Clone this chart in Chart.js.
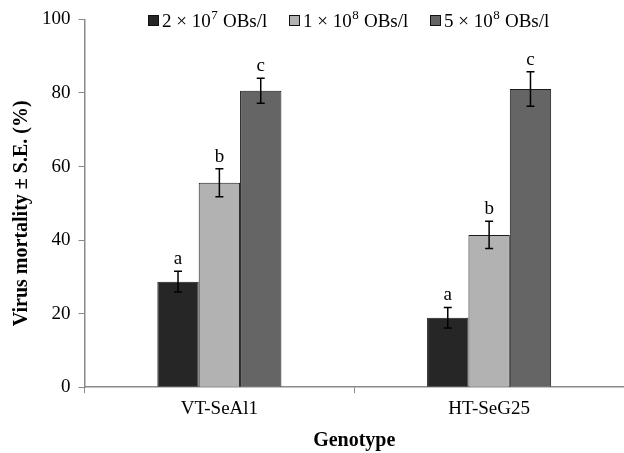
<!DOCTYPE html>
<html>
<head>
<meta charset="utf-8">
<script src="https://cdn.jsdelivr.net/npm/chart.js@4.4.1/dist/chart.umd.min.js"></script>
<style>
  html, body { margin: 0; padding: 0; background: #fff; }
  #wrap { width: 624px; height: 453px; }
</style>
</head>
<body>
<div id="wrap"><canvas id="chartCanvas" width="624" height="453"></canvas></div>
<script>
// data
const categories = ['VT-SeAl1', 'HT-SeG25'];
const doseLabels = ['2 \u00d7 10\u2077 OBs/l', '1 \u00d7 10\u2078 OBs/l', '5 \u00d7 10\u2078 OBs/l'];
const lowDose = [28.7, 18.9];
const midDose = [55.6, 41.4];
const highDose = [80.6, 81.1];
const lowSE = [2.8, 2.8];
const midSE = [3.8, 3.7];
const highSE = [3.4, 4.7];
const lowLetters = ['a', 'a'];
const midLetters = ['b', 'b'];
const highLetters = ['c', 'c'];
const yTicks = [0, 20, 40, 60, 80, 100];

const serif = "'Liberation Serif', 'Times New Roman', serif";
const barColors = ['#262626', '#b2b2b2', '#656565'];
const supDigits = { '\u2077': '7', '\u2078': '8' };

// error bars + significance letters
const errorBarPlugin = {
  id: 'errorBars',
  afterDatasetsDraw(chart) {
    let ctx = chart.ctx;
    let yScale = chart.scales.y;
    ctx.save();
    chart.data.datasets.forEach((ds, di) => {
      let meta = chart.getDatasetMeta(di);
      meta.data.forEach((bar, i) => {
        let v = ds.data[i];
        let se = ds.se[i];
        let yTop = yScale.getPixelForValue(v + se);
        let yBot = yScale.getPixelForValue(v - se);
        let x = bar.x;
        ctx.strokeStyle = '#000';
        ctx.lineWidth = 1.5;
        ctx.beginPath();
        ctx.moveTo(x, yTop); ctx.lineTo(x, yBot);
        ctx.moveTo(x - 4, yTop); ctx.lineTo(x + 4, yTop);
        ctx.moveTo(x - 4, yBot); ctx.lineTo(x + 4, yBot);
        ctx.stroke();
        ctx.fillStyle = '#000';
        ctx.font = '19px ' + serif;
        ctx.textAlign = 'center';
        ctx.textBaseline = 'alphabetic';
        ctx.fillText(ds.letters[i], x, yTop - 7);
      });
    });
    ctx.restore();
  }
};

// legend drawn over the top edge of the plot, as in the figure
const topLegendPlugin = {
  id: 'topLegend',
  afterDraw(chart) {
    let ctx = chart.ctx;
    let boxX = [148, 289, 430];
    let yMid = 20;
    let base = yMid + 7;
    ctx.save();
    ctx.textBaseline = 'alphabetic';
    ctx.textAlign = 'left';
    chart.data.datasets.forEach((ds, di) => {
      ctx.fillStyle = ds.backgroundColor;
      ctx.fillRect(boxX[di], yMid - 5, 10, 10);
      ctx.strokeStyle = '#111';
      ctx.lineWidth = 1;
      ctx.strokeRect(boxX[di] + 0.5, yMid - 4.5, 10, 10);
      ctx.fillStyle = '#000';
      // split label around the superscript digit
      let x = boxX[di] + 14;
      for (let ch of ds.label) {
        if (supDigits[ch]) {
          ctx.font = '13px ' + serif;
          ctx.fillText(supDigits[ch], x + 0.5, base - 8);
          x += ctx.measureText(supDigits[ch]).width + 1;
        } else {
          ctx.font = '19px ' + serif;
          ctx.fillText(ch, x, base);
          x += ctx.measureText(ch).width;
        }
      }
    });
    ctx.restore();
  }
};

const data = {
  labels: categories,
  datasets: [
    { label: doseLabels[0], data: lowDose, se: lowSE, letters: lowLetters, backgroundColor: barColors[0] },
    { label: doseLabels[1], data: midDose, se: midSE, letters: midLetters, backgroundColor: barColors[1] },
    { label: doseLabels[2], data: highDose, se: highSE, letters: highLetters, backgroundColor: barColors[2] }
  ]
};
data.datasets.forEach(ds => {
  ds.borderColor = '#1a1a1a';
  ds.borderWidth = 1;
  ds.borderSkipped = 'bottom';
  ds.barPercentage = 1.0;
  ds.categoryPercentage = 0.46;
});

new Chart(document.getElementById('chartCanvas'), {
  type: 'bar',
  data: data,
  plugins: [errorBarPlugin, topLegendPlugin],
  options: {
    responsive: false,
    animation: false,
    devicePixelRatio: 1,
    layout: { padding: { top: 9, right: 0, bottom: 0, left: 10 } },
    plugins: {
      legend: { display: false },
      tooltip: { enabled: false }
    },
    scales: {
      x: {
        grid: { drawOnChartArea: false, drawTicks: true, tickLength: 6, offset: true, color: '#8a8a8a' },
        border: { color: '#8a8a8a', width: 1.5 },
        ticks: { color: '#000', font: { family: serif, size: 19 }, padding: 4 },
        title: { display: true, text: 'Genotype', color: '#000', font: { family: serif, size: 20, weight: 'bold' }, padding: { top: 5, bottom: 0 } }
      },
      y: {
        min: 0,
        max: 100,
        afterBuildTicks(axis) { axis.ticks = yTicks.map(v => ({ value: v })); },
        grid: { drawOnChartArea: false, drawTicks: true, tickLength: 6, color: '#8a8a8a' },
        border: { color: '#8a8a8a', width: 1.5 },
        ticks: { color: '#000', font: { family: serif, size: 19 }, padding: 8 },
        title: { display: true, text: 'Virus mortality \u00b1 S.E. (%)\u00a0\u00a0\u00a0\u00a0', color: '#000', font: { family: serif, size: 20, weight: 'bold' }, padding: { top: 0, bottom: 0 } }
      }
    }
  }
});
</script>
</body>
</html>
